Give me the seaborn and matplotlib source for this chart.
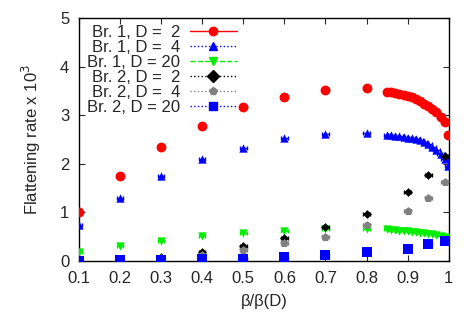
import numpy as np
import pandas as pd
import matplotlib
matplotlib.use("Agg")
import matplotlib.pyplot as plt
import seaborn as sns
from matplotlib.lines import Line2D

# branch 1: coarse points then dense points near beta/beta(D) = 1
x_br1 = [0.1, 0.2, 0.3, 0.4, 0.5, 0.6, 0.7, 0.8,
         0.85, 0.86, 0.87, 0.88, 0.89, 0.90, 0.91, 0.92, 0.93, 0.94,
         0.95, 0.96, 0.97, 0.98, 0.99, 0.998]
br1_d2 = [1.00, 1.75, 2.35, 2.78, 3.17, 3.38, 3.52, 3.55,
          3.48, 3.47, 3.46, 3.44, 3.42, 3.40, 3.37, 3.33, 3.29, 3.24,
          3.18, 3.12, 3.06, 2.97, 2.86, 2.59]
br1_d4 = [0.75, 1.30, 1.75, 2.10, 2.33, 2.53, 2.61, 2.64,
          2.60, 2.59, 2.58, 2.57, 2.55, 2.54, 2.52, 2.50, 2.48, 2.45,
          2.41, 2.35, 2.28, 2.20, 2.10, 1.95]
br1_d20 = [0.19, 0.31, 0.41, 0.51, 0.58, 0.62, 0.66, 0.66,
           0.65, 0.64, 0.63, 0.62, 0.62, 0.61, 0.60, 0.59, 0.58, 0.57,
           0.56, 0.55, 0.54, 0.52, 0.50, 0.48]

# branch 2
x_br2 = [0.1, 0.2, 0.3, 0.4, 0.5, 0.6, 0.7, 0.8, 0.9, 0.95, 0.99]
br2_d2 = [0.00, 0.02, 0.09, 0.18, 0.31, 0.48, 0.70, 0.97, 1.42, 1.77, 2.17]
br2_d4 = [0.00, 0.01, 0.06, 0.13, 0.22, 0.36, 0.49, 0.74, 1.03, 1.30, 1.63]
br2_d20 = [0.00, 0.01, 0.02, 0.03, 0.05, 0.08, 0.12, 0.18, 0.25, 0.35, 0.41]

labels = ["Br. 1, D =  2", "Br. 1, D =  4", "Br. 1, D = 20",
          "Br. 2, D =  2", "Br. 2, D =  4", "Br. 2, D = 20"]
colors = ["#ff0000", "#0000ff", "#00ee00", "#000000", "#808080", "#0000ff"]
markers = ["o", "^", "v", "D", "p", "s"]
sizes = [50, 36, 36, 20, 40, 45]
styles = ["-", ":", "--", ":", ":", ":"]

series = [(x_br1, br1_d2), (x_br1, br1_d4), (x_br1, br1_d20),
          (x_br2, br2_d2), (x_br2, br2_d4), (x_br2, br2_d20)]

rows = []
for lab, (xs, ys) in zip(labels, series):
    for xv, yv in zip(xs, ys):
        rows.append({"x": xv, "y": yv, "series": lab})
df = pd.DataFrame(rows)

sns.set_theme(style="ticks")
plt.rcParams["font.family"] = ["Liberation Sans", "DejaVu Sans"]

fig = plt.figure(figsize=(4.67, 3.27), dpi=100)
ax = fig.add_axes([0.169, 0.202, 0.792, 0.743])

for lab, c, m, s, (xs, ys) in zip(labels, colors, markers, sizes, series):
    ax.errorbar(xs, ys, xerr=0.008, fmt="none", ecolor=c, elinewidth=1,
                capsize=1.5, zorder=2)
    sns.scatterplot(data=df[df["series"] == lab], x="x", y="y", color=c,
                    marker=m, s=s, edgecolor=c, linewidth=0, ax=ax,
                    legend=False, zorder=3)

ax.set_xlim(0.1, 1.0)
ax.set_ylim(0, 5)
ax.set_xticks([0.1, 0.2, 0.3, 0.4, 0.5, 0.6, 0.7, 0.8, 0.9, 1.0])
ax.set_xticklabels(["0.1", "0.2", "0.3", "0.4", "0.5", "0.6", "0.7",
                    "0.8", "0.9", "1"])
ax.set_yticks([0, 1, 2, 3, 4, 5])
ax.tick_params(direction="in", top=True, right=True, labelsize=12,
               length=4, width=0.8, pad=7)
for sp in ax.spines.values():
    sp.set_linewidth(1)
    sp.set_color("black")

ax.set_xlabel("β/β(D)", fontsize=12, labelpad=6)
ax.set_ylabel("Flattening rate x 10$^3$", fontsize=12, labelpad=12)

handles = [Line2D([], [], color=c, linestyle=ls, marker=m, markersize=6,
                  linewidth=1)
           for c, ls, m in zip(colors, styles, markers)]
ax.legend(handles, labels, loc="upper left", bbox_to_anchor=(-0.01, 1.02),
          markerfirst=False, frameon=False, fontsize=12, handlelength=2.8,
          labelspacing=0.0, borderpad=0.2, handletextpad=0.6)

fig.savefig("out.png", dpi=100)
